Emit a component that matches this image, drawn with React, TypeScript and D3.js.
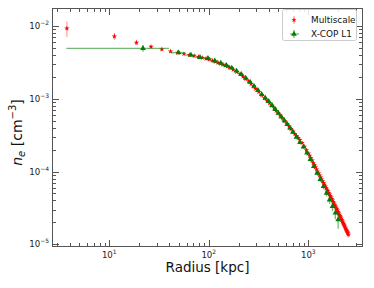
import React from 'react'
import * as d3 from 'd3'

const width = 374
const height = 288
const plot = { left: 52, right: 363, top: 8, bottom: 247 }

// Multiscale deprojection (red)
const msRadius = [
  3.75, 11.25, 18.75, 26.25, 33.75, 41.25, 48.75, 56.25, 63.75, 71.25,
  78.75, 86.25, 93.75, 101.25, 108.75, 116.25, 123.75, 131.25, 138.75, 146.25,
  153.75, 161.25, 176, 191, 206, 221, 236, 251, 266, 281,
  296, 318, 341, 363, 386, 408, 431, 453, 476, 498,
  521, 551, 581, 611, 641, 671, 701, 731, 761, 791,
  821, 866, 911, 956,
  1001, 1031, 1061, 1091, 1121, 1151, 1181, 1211, 1241, 1271,
  1301, 1331, 1361, 1391, 1421, 1451, 1481, 1511, 1541, 1571,
  1601, 1631, 1661, 1691, 1721, 1751, 1781, 1811, 1841, 1871,
  1901, 1931, 1961, 1991, 2021, 2051, 2081, 2111, 2141, 2171,
  2201, 2231, 2261, 2291, 2321, 2351, 2381, 2411, 2441, 2471,
  2501, 2531
]
const msDensity = [
  9.3e-3, 7.2e-3, 5.9e-3, 5.19e-3, 4.78e-3, 4.49e-3, 4.3e-3, 4.12e-3, 4.0e-3, 3.87e-3,
  3.76e-3, 3.66e-3, 3.56e-3, 3.47e-3, 3.35e-3, 3.24e-3, 3.13e-3, 3.03e-3, 2.95e-3, 2.86e-3,
  2.78e-3, 2.7e-3, 2.51e-3, 2.34e-3, 2.19e-3, 2.02e-3, 1.87e-3, 1.74e-3, 1.6e-3, 1.48e-3,
  1.37e-3, 1.245e-3, 1.12e-3, 1.02e-3, 9.33e-4, 8.71e-4, 8.04e-4, 7.41e-4, 6.84e-4, 6.34e-4,
  5.89e-4, 5.37e-4, 4.93e-4, 4.53e-4, 4.17e-4, 3.85e-4, 3.55e-4, 3.3e-4, 3.08e-4, 2.89e-4,
  2.72e-4, 2.47e-4, 2.2e-4, 1.97e-4,
  1.77e-4, 1.65e-4, 1.53e-4, 1.42e-4, 1.32e-4, 1.23e-4, 1.15e-4, 1.07e-4, 1.0e-4, 9.42e-5,
  8.85e-5, 8.32e-5, 7.83e-5, 7.38e-5, 6.97e-5, 6.6e-5, 6.25e-5, 5.94e-5, 5.64e-5, 5.36e-5,
  5.1e-5, 4.86e-5, 4.63e-5, 4.43e-5, 4.22e-5, 4.02e-5, 3.83e-5, 3.65e-5, 3.48e-5, 3.33e-5,
  3.18e-5, 3.04e-5, 2.92e-5, 2.79e-5, 2.67e-5, 2.56e-5, 2.45e-5, 2.35e-5, 2.25e-5, 2.16e-5,
  2.07e-5, 1.99e-5, 1.91e-5, 1.84e-5, 1.77e-5, 1.7e-5, 1.64e-5, 1.58e-5, 1.52e-5, 1.47e-5,
  1.42e-5, 1.36e-5
]
// error in percent of the value
const msErrPct = [
  24, 11, 7, 5, 4, 3, 3, 3, 3, 3,
  3, 3, 3, 3, 3, 3, 3, 3, 3, 3,
  3, 3, 3, 3, 3, 3, 3, 3, 3, 3,
  3, 3, 3, 3, 3, 3, 3, 3, 3, 3,
  3, 3, 3, 3, 3, 3, 3, 3, 3, 3,
  3, 3, 3, 3,
  3, 3, 3, 3, 3, 3, 3, 3, 3, 4,
  4, 4, 4, 4, 4, 4, 5, 5, 5, 5,
  5, 5, 5, 6, 6, 6, 6, 6, 6, 6,
  7, 7, 7, 7, 7, 7, 7, 8, 8, 8,
  8, 8, 8, 8, 9, 9, 9, 9, 9, 9,
  9, 9
]

// X-COP L1 (green)
const xcRadius = [
  21.8, 49.8, 66.2, 81.6, 98, 115, 132, 150, 170, 190,
  212, 235, 260, 285, 312, 340, 370, 400, 432, 466,
  500, 537, 575, 615, 657, 700, 760, 825, 895, 970,
  1050, 1135, 1225, 1320, 1420, 1525, 1635, 1750, 1870, 1995
]
const xcRadiusErr = [
  18.1, 8.5, 8, 7.5, 8, 8.5, 8.5, 9.5, 10, 10.5,
  11.5, 12, 12.5, 13.5, 14, 15, 15, 16, 17, 17,
  18, 19, 20, 21, 21, 25, 32, 34, 37, 40,
  42, 45, 47, 50, 52, 55, 57, 60, 62, 64
]
const xcDensity = [
  4.93e-3, 4.3e-3, 3.99e-3, 3.71e-3, 3.59e-3, 3.33e-3, 3.09e-3, 2.88e-3, 2.65e-3, 2.41e-3,
  2.17e-3, 1.92e-3, 1.7e-3, 1.49e-3, 1.31e-3, 1.15e-3, 1.02e-3, 9.23e-4, 8.13e-4, 7.16e-4,
  6.35e-4, 5.62e-4, 5.01e-4, 4.45e-4, 3.94e-4, 3.48e-4, 2.97e-4, 2.51e-4, 2.19e-4, 1.8e-4,
  1.47e-4, 1.18e-4, 9.55e-5, 7.8e-5, 6.24e-5, 5.06e-5, 4.09e-5, 3.32e-5, 2.7e-5, 2.18e-5
]
const xcErrPct = [
  10, 4, 3, 3, 3, 3, 3, 3, 3, 3,
  3, 3, 3, 3, 3, 3, 3, 3, 3, 3,
  3, 3, 3, 3, 3, 4, 4, 4, 5, 5,
  6, 6, 7, 8, 9, 10, 12, 14, 18, 25
]

const xDomain = [2.656, 3545]
const yDomain = [9.18e-6, 0.01768]

const font = '"DejaVu Sans", sans-serif'
const red = '#ff0000'
const green = '#008000'

const isDecade = (v: number) => Math.abs(Math.log10(v) - Math.round(Math.log10(v))) < 1e-6
const expLabel = (v: number) => String(Math.round(Math.log10(v))).replace('-', '\u2212')

export default function App() {
  const x = d3.scaleLog().domain(xDomain).range([plot.left, plot.right])
  const y = d3.scaleLog().domain(yDomain).range([plot.bottom, plot.top])

  const star = d3.symbol().type(d3.symbolStar).size(9)() as string
  const tri = d3.symbol().type(d3.symbolTriangle).size(14)() as string

  const xTicks = x.ticks().filter(t => t >= xDomain[0] && t <= xDomain[1])
  const yTicks = y.ticks().filter(t => t >= yDomain[0] && t <= yDomain[1])

  const axisColor = '#555'

  return (
    <svg width={width} height={height} style={{ position: 'absolute', left: 0, top: 0, background: '#fff' }} fontFamily={font}>
      <rect x={0} y={0} width={width} height={height} fill="#fff" />

      {/* Multiscale */}
      <g>
        {msRadius.map((r, i) => {
          const e = msDensity[i] * msErrPct[i] / 100
          return <line key={'me' + i} x1={x(r)} x2={x(r)} y1={y(msDensity[i] - e)} y2={y(msDensity[i] + e)}
            stroke={red} strokeOpacity={0.45} strokeWidth={1} />
        })}
        {msRadius.map((r, i) => (
          <path key={'mp' + i} d={star} transform={`translate(${x(r)},${y(msDensity[i])})`} fill={red} />
        ))}
      </g>

      {/* X-COP L1 */}
      <g>
        {xcRadius.map((r, i) => (
          <line key={'xe' + i} x1={x(Math.max(r - xcRadiusErr[i], xDomain[0]))} x2={x(r + xcRadiusErr[i])}
            y1={y(xcDensity[i])} y2={y(xcDensity[i])} stroke={green} strokeOpacity={0.55} strokeWidth={1.3} />
        ))}
        {xcRadius.map((r, i) => {
          const e = xcDensity[i] * xcErrPct[i] / 100
          return <line key={'ye' + i} x1={x(r)} x2={x(r)} y1={y(xcDensity[i] - e)} y2={y(xcDensity[i] + e)}
            stroke={green} strokeOpacity={0.55} strokeWidth={1.3} />
        })}
        {xcRadius.map((r, i) => (
          <path key={'xp' + i} d={tri} transform={`translate(${x(r)},${y(xcDensity[i])})`} fill={green} />
        ))}
      </g>

      {/* frame */}
      <rect x={plot.left + 0.5} y={plot.top + 0.5} width={plot.right - plot.left - 1} height={plot.bottom - plot.top - 1}
        fill="none" stroke={axisColor} strokeWidth={1} />

      {/* x ticks */}
      {xTicks.map((t, i) => {
        const len = isDecade(t) ? 7 : 4
        const px = Math.round(x(t)) + 0.5
        return (
          <g key={'xt' + i} stroke={axisColor} strokeWidth={1}>
            <line x1={px} x2={px} y1={plot.bottom} y2={plot.bottom - len} />
            <line x1={px} x2={px} y1={plot.top} y2={plot.top + len} />
          </g>
        )
      })}
      {xTicks.filter(isDecade).map((t, i) => (
        <text key={'xl' + i} x={x(t)} y={258} textAnchor="middle" fontSize={8.6} fill="#222">
          10<tspan dy={-4} fontSize={6}>{expLabel(t)}</tspan>
        </text>
      ))}

      {/* y ticks */}
      {yTicks.map((t, i) => {
        const len = isDecade(t) ? 7 : 4
        const py = Math.round(y(t)) + 0.5
        return (
          <g key={'yt' + i} stroke={axisColor} strokeWidth={1}>
            <line x1={plot.left} x2={plot.left + len} y1={py} y2={py} />
            <line x1={plot.right} x2={plot.right - len} y1={py} y2={py} />
          </g>
        )
      })}
      {yTicks.filter(isDecade).map((t, i) => (
        <text key={'yl' + i} x={49} y={y(t) + 3} textAnchor="end" fontSize={8.6} fill="#222">
          10<tspan dy={-4} fontSize={6}>{expLabel(t)}</tspan>
        </text>
      ))}

      {/* axis titles */}
      <text x={(plot.left + plot.right) / 2} y={271.5} textAnchor="middle" fontSize={13.5} fill="#111">Radius [kpc]</text>
      <text transform={`translate(22,${(plot.top + plot.bottom) / 2 + 5}) rotate(-90)`} textAnchor="middle" fontSize={14} fill="#111">
        <tspan fontStyle="italic">n</tspan>
        <tspan fontSize={10} dy={3} fontStyle="italic">e</tspan>
        <tspan dy={-3}>{' [cm'}</tspan>
        <tspan fontSize={10} dy={-6}>{'\u22123'}</tspan>
        <tspan dy={6}>]</tspan>
      </text>

      {/* legend */}
      <g>
        <rect x={282.5} y={9.5} width={74} height={31} rx={2} fill="#fff" fillOpacity={0.85} stroke="#ccc" strokeWidth={1} />
        <line x1={294} x2={294} y1={16} y2={24} stroke={red} strokeOpacity={0.45} strokeWidth={1} />
        <path d={star} transform="translate(294,20)" fill={red} />
        <text x={311} y={23.3} fontSize={8.9} fill="#111">Multiscale</text>
        <line x1={290} x2={299} y1={34} y2={34} stroke={green} strokeOpacity={0.55} strokeWidth={1.3} />
        <line x1={294} x2={294} y1={30} y2={38} stroke={green} strokeOpacity={0.55} strokeWidth={1.3} />
        <path d={tri} transform="translate(294,34)" fill={green} />
        <text x={311} y={37.3} fontSize={8.9} fill="#111">X-COP L1</text>
      </g>
    </svg>
  )
}
